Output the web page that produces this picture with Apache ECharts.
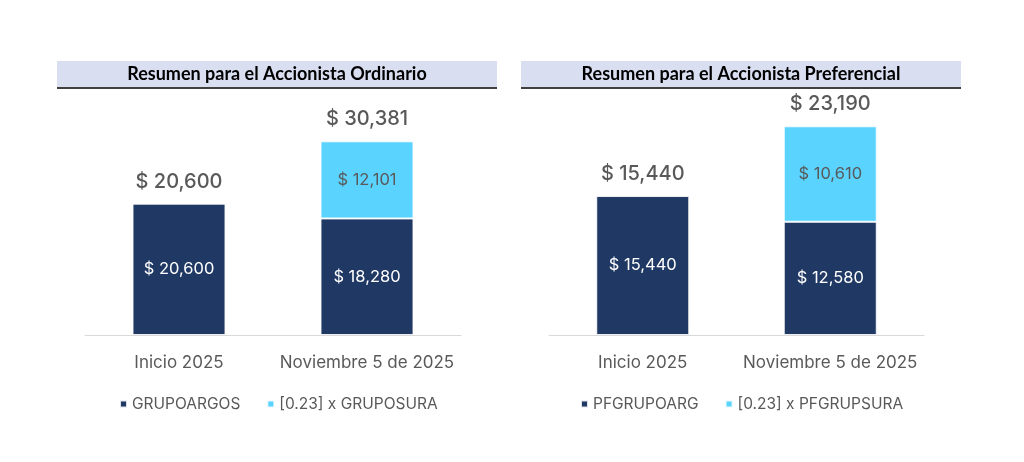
<!DOCTYPE html>
<html><head><meta charset="utf-8">
<script src="https://cdn.jsdelivr.net/npm/echarts@6/dist/echarts.min.js"></script>
<style>html,body{margin:0;padding:0;background:#fff}#c{width:1024px;height:462px}</style>
</head><body><div id="c"></div>
<script>
var categories = ['Inicio 2025', 'Noviembre 5 de 2025'];
var titleOrd = 'Resumen para el Accionista Ordinario';
var titlePref = 'Resumen para el Accionista Preferencial';
var ordNames = ['GRUPOARGOS', '[0.23] x GRUPOSURA'];
var prefNames = ['PFGRUPOARG', '[0.23] x PFGRUPSURA'];
var ordArgos = [20600, 18280];
var ordSura = [null, 12101];
var ordTotal = [20600, 30381];
var prefArgos = [15440, 12580];
var prefSura = [null, 10610];
var prefTotal = [15440, 23190];

var DARK = '#203864', LIGHT = '#5AD3FF', GRAY = '#595959';
var FONT = 'Inter, "Liberation Sans", Arial, sans-serif';
function fmt(v) { return '$ ' + Number(v).toLocaleString('en-US'); }

function banner(x, w, text) {
  return [
    { type: 'rect', shape: { x: x, y: 61, width: w, height: 26 }, style: { fill: '#D9DEF0' }, silent: true },
    { type: 'rect', shape: { x: x, y: 87, width: w, height: 2 }, style: { fill: '#404040' }, silent: true },
    { type: 'text', x: x + w / 2, y: 74, style: { text: text, fill: '#000', font: 'bold 18px Lato, "Open Sans", sans-serif', textAlign: 'center', textVerticalAlign: 'middle' }, silent: true }
  ];
}

function seriesFor(idx, names, argos, sura, total) {
  var common = { type: 'bar', xAxisIndex: idx, yAxisIndex: idx, barWidth: 93, silent: true };
  return [
    Object.assign({}, common, {
      name: names[0], stack: 's' + idx, data: argos,
      itemStyle: { color: DARK, borderColor: 'rgba(255,255,255,0.85)', borderWidth: 1 },
      label: { show: true, position: 'inside', color: '#fff', fontSize: 16.5, fontFamily: FONT, formatter: function (p) { return fmt(p.value); } }
    }),
    Object.assign({}, common, {
      name: names[1], stack: 's' + idx, data: sura,
      itemStyle: { color: LIGHT, borderColor: 'rgba(255,255,255,0.85)', borderWidth: 1 },
      label: { show: true, position: 'inside', color: GRAY, fontSize: 16.5, fontFamily: FONT, formatter: function (p) { return fmt(p.value); } }
    }),
    Object.assign({}, common, {
      name: 'total' + idx, data: total, barGap: '-100%', z: 1,
      itemStyle: { color: 'rgba(0,0,0,0)' },
      label: { show: true, position: 'top', distance: 12, color: GRAY, fontSize: 20, fontWeight: 500, fontFamily: FONT, formatter: function (p) { return fmt(p.value); } }
    })
  ];
}

var chart = echarts.init(document.getElementById('c'), null, { renderer: 'canvas' });
var xBase = {
  type: 'category', data: categories,
  axisLine: { lineStyle: { color: '#D9D9D9', width: 1 } }, axisTick: { show: false },
  axisLabel: { color: GRAY, fontSize: 17, fontFamily: FONT, margin: 19, interval: 0 }
};
var yBase = { type: 'value', min: 0, show: false, splitLine: { show: false } };
chart.setOption({
  animation: false,
  graphic: banner(57, 440, titleOrd).concat(banner(521, 440, titlePref)),
  grid: [
    { left: 85, width: 376, top: 80, bottom: 127 },
    { left: 549, width: 375, top: 65, bottom: 127 }
  ],
  xAxis: [Object.assign({ gridIndex: 0 }, xBase), Object.assign({ gridIndex: 1 }, xBase)],
  yAxis: [Object.assign({ gridIndex: 0, max: 40000 }, yBase), Object.assign({ gridIndex: 1, max: 30000 }, yBase)],
  legend: [
    { data: ordNames, left: 114, top: 391, icon: 'rect', itemWidth: 7, itemHeight: 7, itemGap: 26, textStyle: { color: GRAY, fontSize: 15.5, fontFamily: FONT } },
    { data: prefNames, left: 575, top: 391, icon: 'rect', itemWidth: 7, itemHeight: 7, itemGap: 26, textStyle: { color: GRAY, fontSize: 15.5, fontFamily: FONT } }
  ],
  series: seriesFor(0, ordNames, ordArgos, ordSura, ordTotal).concat(seriesFor(1, prefNames, prefArgos, prefSura, prefTotal))
});
</script></body></html>
